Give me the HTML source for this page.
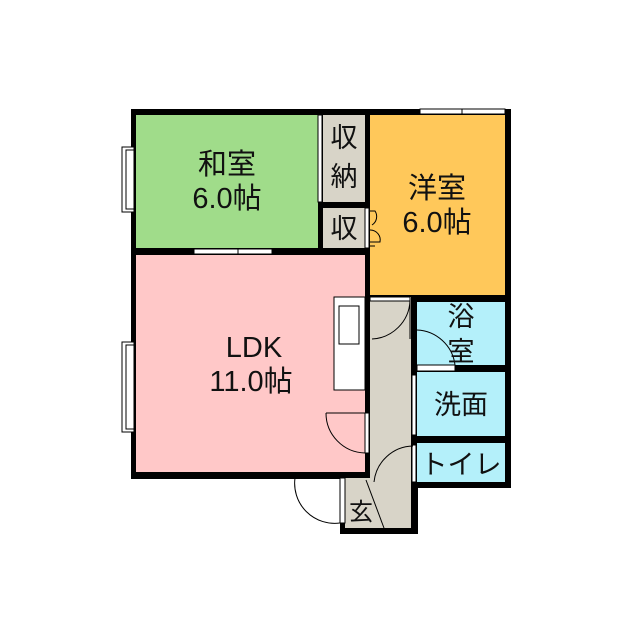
<!DOCTYPE html>
<html><head><meta charset="utf-8"><style>
html,body{margin:0;padding:0;background:#fff;width:640px;height:640px;overflow:hidden}
text{font-family:"Liberation Sans","Noto Sans CJK JP",sans-serif;fill:#111}
</style></head><body>
<svg width="640" height="640" viewBox="0 0 640 640" xmlns="http://www.w3.org/2000/svg">
<rect x="131" y="109" width="380" height="370" fill="#000"/>
<rect x="411" y="470" width="100" height="18" fill="#000"/>
<rect x="340" y="470" width="78" height="64" fill="#000"/>
<rect x="136" y="115" width="182" height="133" fill="#a0dc8a"/>
<rect x="323" y="115" width="42" height="87" fill="#d8d4c8"/>
<rect x="323" y="208" width="42" height="40" fill="#d8d4c8"/>
<rect x="370" y="115" width="135" height="180" fill="#ffc85a"/>
<rect x="136" y="255" width="229" height="217" fill="#ffc8c8"/>
<rect x="370" y="297" width="41" height="231" fill="#d8d4c8"/>
<rect x="345" y="478" width="66" height="50" fill="#d8d4c8"/>
<rect x="417" y="302" width="88" height="63" fill="#b4f0fa"/>
<rect x="417" y="372" width="88" height="64" fill="#b4f0fa"/>
<rect x="417" y="443" width="88" height="39" fill="#b4f0fa"/>
<rect x="334" y="297" width="31" height="93" fill="#fff" stroke="#000" stroke-width="1"/>
<rect x="339" y="306" width="20" height="38" fill="#fff" stroke="#000" stroke-width="1"/>
<g fill="#fff" stroke="#000" stroke-width="1">
<rect x="122" y="147" width="12" height="65"/><rect x="126" y="150" width="8" height="59"/>
<rect x="122" y="342" width="12" height="90"/><rect x="126" y="345" width="8" height="84"/>
<rect x="194" y="249" width="78" height="5"/><line x1="238" y1="249" x2="238" y2="254"/>
<rect x="420" y="109" width="85" height="5"/><line x1="462" y1="109" x2="462" y2="114"/>
<rect x="318" y="115" width="4" height="87"/>
<rect x="365" y="208" width="4" height="40"/>
<rect x="370" y="297" width="40" height="4"/>
<rect x="417" y="365" width="38" height="6"/>
<rect x="365" y="413" width="4" height="40"/>
<rect x="412" y="375" width="4" height="60"/>
<rect x="412" y="445" width="4" height="37"/>
<rect x="340" y="478" width="5" height="45"/>
</g>
<g fill="none" stroke="#000" stroke-width="1">
<path d="M370 211 h5 a10 10 0 0 1 -3 14 M370 230 a10 10 0 0 1 10 12 h-10 M375 246 h-5"/>
<path d="M372 339 A40 40 0 0 0 410 301 V339"/>
<path d="M417 330 A40 40 0 0 1 455 365"/>
<path d="M326 413 H365 M326 413 A40 40 0 0 0 365 453"/>
<path d="M374 482 A40 40 0 0 1 413 446"/>
<path d="M295 478 A40 40 0 0 0 340 523"/>
<line x1="366" y1="480" x2="384" y2="528"/>
</g>
<text x="227" y="174" font-size="29" text-anchor="middle">和室</text>
<text x="227" y="208" font-size="29" text-anchor="middle">6.0帖</text>
<text x="344" y="147" font-size="27" text-anchor="middle">収</text>
<text x="344" y="186" font-size="27" text-anchor="middle">納</text>
<text x="344" y="238" font-size="27" text-anchor="middle">収</text>
<text x="437" y="198" font-size="29" text-anchor="middle">洋室</text>
<text x="437" y="232" font-size="29" text-anchor="middle">6.0帖</text>
<text x="254" y="357" font-size="29" text-anchor="middle">LDK</text>
<text x="251" y="391" font-size="29" text-anchor="middle">11.0帖</text>
<text x="461" y="326" font-size="27" text-anchor="middle">浴</text>
<text x="461" y="361" font-size="27" text-anchor="middle">室</text>
<text x="461" y="414" font-size="27" text-anchor="middle">洗面</text>
<text x="461" y="474" font-size="27" text-anchor="middle">トイレ</text>
<text x="361" y="520" font-size="24" text-anchor="middle">玄</text>
</svg>
</body></html>
